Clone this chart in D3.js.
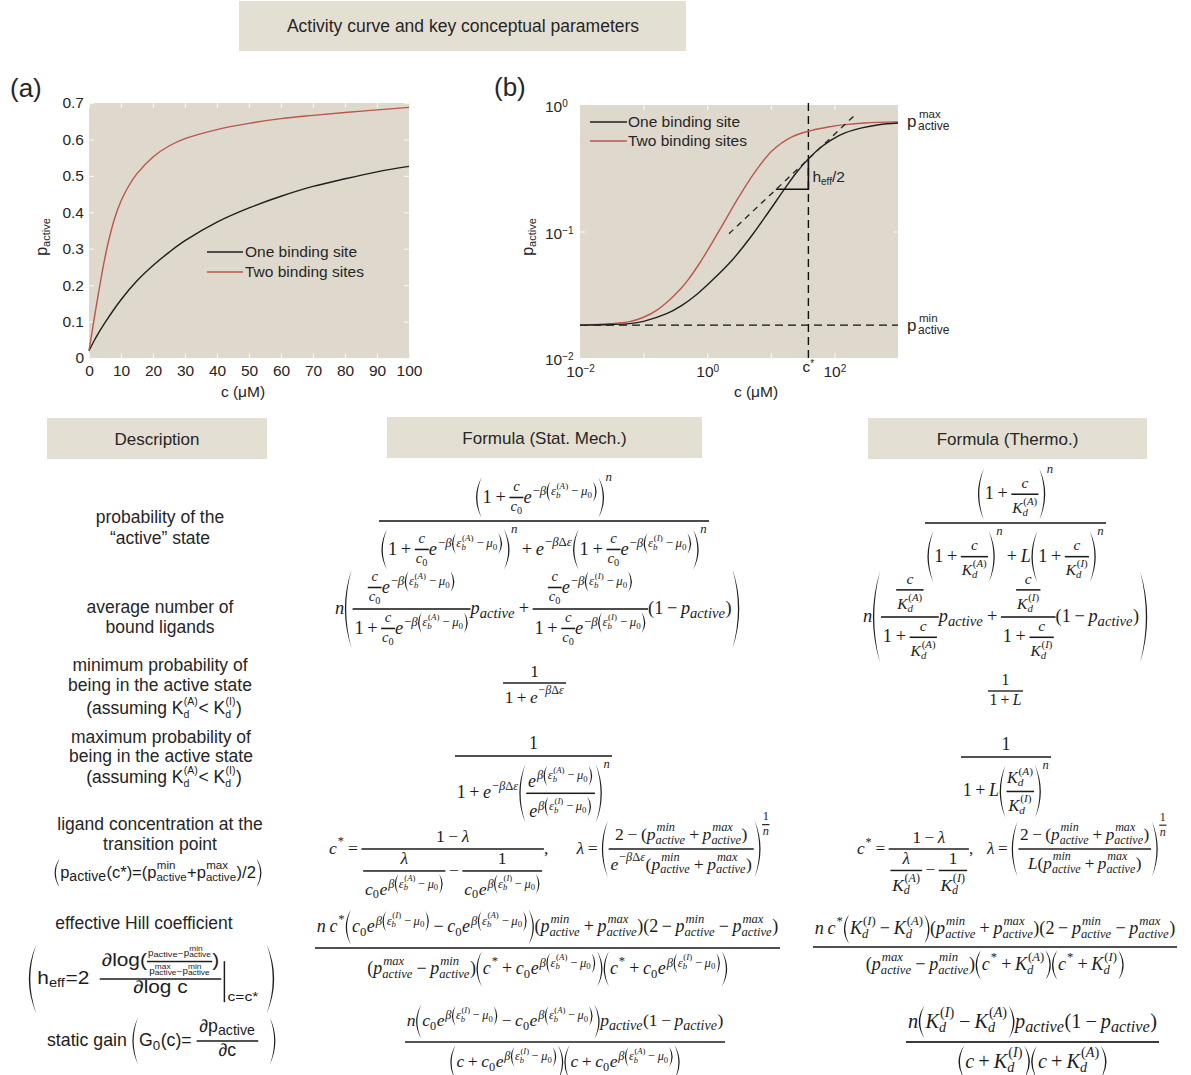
<!DOCTYPE html>
<html>
<head>
<meta charset="utf-8">
<script src="https://cdn.jsdelivr.net/npm/d3@7"></script>
<style>
  body { margin: 0; background: #fff; }
  svg { display: block; }
</style>
</head>
<body>
<svg id="fig" width="1191" height="1075"></svg>
<script>
// ---------------- data ----------------
const titleText = 'Activity curve and key conceptual parameters';
const seriesNames = ['One binding site', 'Two binding sites'];
const headerNames = ['Description', 'Formula (Stat. Mech.)', 'Formula (Thermo.)'];

// panel (a): linear axes
const ticksAX = [0, 10, 20, 30, 40, 50, 60, 70, 80, 90, 100];
const ticksAY = [0, 0.1, 0.2, 0.3, 0.4, 0.5, 0.6, 0.7];
const oneSiteConcA = [0, 1, 2, 5, 10, 15, 20, 25, 30, 40, 50, 60, 70, 80, 90, 100];
const oneSiteActA  = [0.02, 0.037, 0.054, 0.097, 0.16, 0.212, 0.254, 0.29, 0.322, 0.373, 0.412, 0.444, 0.471, 0.492, 0.511, 0.526];
const twoSiteConcA = [0, 1, 2, 3, 4, 5, 6, 8, 10, 12.5, 15, 20, 25, 30, 40, 50, 60, 70, 80, 90, 100];
const twoSiteActA  = [0.02, 0.074, 0.128, 0.18, 0.23, 0.276, 0.317, 0.383, 0.431, 0.4735, 0.506, 0.552, 0.582, 0.602, 0.627, 0.644, 0.657, 0.666, 0.674, 0.681, 0.688];

// panel (b): log-log axes
const ticksBX = [0.01, 1, 100];
const ticksBY = [0.01, 0.1, 1];
const oneSiteConcB = [0.01, 0.03, 0.06, 0.1, 0.23, 0.4, 0.7, 1.2, 2.5, 5, 9, 17, 25, 39, 60, 90, 150, 270, 500, 1000];
const oneSiteActB  = [0.0182, 0.0184, 0.0187, 0.0195, 0.0224, 0.0261, 0.0321, 0.0411, 0.0598, 0.0925, 0.14, 0.222, 0.29, 0.375, 0.459, 0.531, 0.604, 0.659, 0.698, 0.72];
const twoSiteConcB = [0.01, 0.03, 0.06, 0.1, 0.16, 0.25, 0.37, 0.5, 0.75, 1.2, 2, 3.2, 5.8, 10.5, 21.5, 44, 80, 150, 300, 1000];
const twoSiteActB  = [0.0182, 0.0187, 0.0194, 0.021, 0.0238, 0.0285, 0.0346, 0.0415, 0.0556, 0.0817, 0.127, 0.19, 0.301, 0.435, 0.56, 0.63, 0.67, 0.70, 0.72, 0.735];
const pMinLevel = 0.0182;
const cStar = 39;
const tangentConc = [2.2, 223];
const tangentAct  = [0.096, 0.856];
const stepConc = [12, 39];
const stepAct  = [0.216, 0.375];

// table description column
const descText = [
  ['probability of the', '\u201cactive\u201d state'],
  ['average number of', 'bound ligands'],
  ['minimum probability of', 'being in the active state'],
  ['maximum probability of', 'being in the active state'],
  ['ligand concentration at the', 'transition point'],
  ['effective Hill coefficient']
];

// ---------------- styles ----------------
const SANS = "'Liberation Sans', Arial, Helvetica, sans-serif";
const SERIF = "'Liberation Serif', 'DejaVu Serif', serif";
const PLOT_BG = '#dfd9cd';
const BOX_BG = '#e4dfd3';
const RED = '#b8574a';
const INK = '#1c1c1c';
const TXT = '#262626';
const AXIS_FS = 15.5;

const svg = d3.select('#fig');

// ---------------- small math typesetter ----------------
const mctx = document.createElement('canvas').getContext('2d');
let FAM = SERIF;

function tbox(str, sz, it, fam) {
  mctx.font = (it ? 'italic ' : '') + sz + 'px ' + fam;
  const w = mctx.measureText(str).width;
  return { w, h: sz * 0.7, d: sz * 0.2, draw(g, x, y) {
    g.append('text').attr('x', x).attr('y', y).attr('font-family', fam)
      .attr('font-size', sz).attr('font-style', it ? 'italic' : null)
      .attr('fill', INK).text(str);
  }};
}
const I = s => sz => tbox(s, sz, FAM === SERIF, FAM);
const N = s => sz => tbox(s, sz, false, FAM);
const sp = k => sz => ({ w: k * sz, h: 0, d: 0, draw() {} });
const row = (...items) => sz => {
  const bs = items.map(f => f(sz));
  return { w: d3.sum(bs, b => b.w), h: d3.max(bs, b => b.h), d: d3.max(bs, b => b.d),
    draw(g, x, y) { let cx = x; bs.forEach(b => { b.draw(g, cx, y); cx += b.w; }); } };
};
const op = s => row(sp(0.2), N(s), sp(0.2));

const frac = (n, d, k = 1, pad = 0.1, gapK = 0.13) => sz => {
  const nb = n(sz * k), db = d(sz * k);
  const a = sz * 0.28, t = Math.max(0.9, sz * 0.085), gap = sz * gapK;
  const w = Math.max(nb.w, db.w) + 2 * pad * sz;
  return { w, h: a + t / 2 + gap + nb.d + nb.h, d: t / 2 + gap + db.h + db.d - a,
    draw(g, x, y) {
      g.append('rect').attr('x', x).attr('y', y - a - t / 2).attr('width', w).attr('height', t).attr('fill', INK);
      nb.draw(g, x + (w - nb.w) / 2, y - a - t / 2 - gap - nb.d);
      db.draw(g, x + (w - db.w) / 2, y - a + t / 2 + gap + db.h);
    } };
};

const scr = (base, sup, sub, k = 0.7, margin = 0.08) => sz => {
  const b = base(sz), p = sup ? sup(sz * k) : null, s = sub ? sub(sz * k) : null;
  let up = p ? Math.max(sz * 0.4, b.h - p.h * 0.45) : 0;
  const dn = s ? Math.max(sz * 0.2, b.d - s.d) : 0;
  if (p && s) {
    const clash = (s.h - dn) - (up - p.d) + sz * margin;
    if (clash > 0) up += clash;
  }
  const kern = p ? (FAM === SERIF ? sz * 0.05 : sz * 0.02) : 0;
  return { w: b.w + Math.max(p ? p.w + kern : 0, s ? s.w : 0) + sz * 0.03,
    h: Math.max(b.h, p ? up + p.h : 0), d: Math.max(b.d, s ? dn + s.d : 0),
    draw(g, x, y) {
      b.draw(g, x, y);
      if (p) p.draw(g, x + b.w + kern, y - up);
      if (s) s.draw(g, x + b.w, y + dn);
    } };
};
const sup = (b, p, k) => scr(b, p, null, k);
const sub = (b, s, k) => scr(b, null, s, k);
const subsup = (b, s, p, k, m) => scr(b, p, s, k, m);

// stretchy parentheses drawn as crescents
const par = c => sz => {
  const cb = c(sz);
  const a = sz * 0.28;
  const ext = Math.max(cb.h - a, cb.d + a) + sz * 0.1;
  if (2 * ext < sz * 1.3) return row(N('('), () => cb, N(')'))(sz);
  const pw = Math.min(sz * 0.55, sz * 0.26 + ext * 0.07);
  const th = Math.max(1, sz * 0.07);
  const gap = sz * 0.05;
  const w = 2 * (pw + gap) + cb.w;
  return { w, h: a + ext, d: ext - a, draw(g, x, y) {
    const yt = y - a - ext, yb = y - a + ext, ym = y - a;
    const crescent = (x0, dir) => {
      const cOut = x0 + dir * pw * 1.8, cIn = cOut - dir * 2 * th;
      return `M${x0},${yt} Q${cOut},${ym} ${x0},${yb} Q${cIn},${ym} ${x0},${yt} Z`;
    };
    g.append('path').attr('d', crescent(x + pw, -1)).attr('fill', INK);
    cb.draw(g, x + pw + gap, y);
    g.append('path').attr('d', crescent(x + w - pw, 1)).attr('fill', INK);
  }};
};

// "evaluated at" bar with a subscript condition
const evalAt = (c, s) => sz => {
  const cb = c(sz), sb = s(sz * 0.75);
  const gap = sz * 0.3;
  return { w: cb.w + gap + sb.w + sz * 0.15, h: cb.h, d: cb.d + sz * 0.3, draw(g, x, y) {
    cb.draw(g, x, y);
    const lx = x + cb.w + gap * 0.5;
    g.append('line').attr('x1', lx).attr('x2', lx)
      .attr('y1', y - cb.h * 0.6).attr('y2', y + cb.d + sz * 0.3)
      .attr('stroke', INK).attr('stroke-width', Math.max(1, sz * 0.07));
    sb.draw(g, lx + sz * 0.15, y + cb.d + sz * 0.25);
  }};
};

// lay a built expression out in a slot; optional horizontal-only stretch
function place(build, fam, sz, o) {
  FAM = fam;
  const b = build(sz);
  const s = o.right != null ? (o.right - o.left) / b.w : 1;
  const sy = o.stretchX ? 1 : s;
  const x0 = o.left != null ? o.left : o.cx - b.w * s / 2;
  const y0 = o.axis != null ? o.axis + sy * sz * 0.28 : o.base;
  const g = svg.append('g').attr('transform', `translate(${x0},${y0}) scale(${s},${sy})`);
  b.draw(g, 0, 0);
}

// ---------------- title and headers ----------------
svg.append('rect').attr('x', 239).attr('y', 1).attr('width', 447).attr('height', 50).attr('fill', BOX_BG);
svg.append('text').attr('x', 463).attr('y', 32).attr('text-anchor', 'middle')
  .attr('font-family', SANS).attr('font-size', 17.5).attr('fill', TXT).text(titleText);

const headerBoxes = [[47, 418, 220, 41], [387, 417, 315, 41], [868, 418, 279, 41]];
headerNames.forEach((h, i) => {
  const [x, y, w, ht] = headerBoxes[i];
  svg.append('rect').attr('x', x).attr('y', y).attr('width', w).attr('height', ht).attr('fill', BOX_BG);
  svg.append('text').attr('x', x + w / 2).attr('y', y + 27).attr('text-anchor', 'middle')
    .attr('font-family', SANS).attr('font-size', 17).attr('fill', TXT).text(h);
});

// ---------------- panel (a) ----------------
const xA = d3.scaleLinear().domain([0, 100]).range([89, 409]);
const yA = d3.scaleLinear().domain([0, 0.7]).range([358, 103]);
const gA = svg.append('g');
gA.append('rect').attr('x', xA(0)).attr('y', yA(0.7)).attr('width', xA(100) - xA(0))
  .attr('height', yA(0) - yA(0.7)).attr('fill', PLOT_BG);

function whiteTicks(g) {
  g.select('.domain').remove();
  g.selectAll('.tick line').attr('stroke', '#f7f5f0').attr('stroke-width', 1.2);
  g.selectAll('.tick text').remove();
}
gA.append('g').attr('transform', `translate(0,${yA(0)})`).call(d3.axisBottom(xA).tickValues(ticksAX).tickSize(-5)).call(whiteTicks);
gA.append('g').attr('transform', `translate(0,${yA(0.7)})`).call(d3.axisTop(xA).tickValues(ticksAX).tickSize(-5)).call(whiteTicks);
gA.append('g').attr('transform', `translate(${xA(0)},0)`).call(d3.axisLeft(yA).tickValues(ticksAY).tickSize(-5)).call(whiteTicks);
gA.append('g').attr('transform', `translate(${xA(100)},0)`).call(d3.axisRight(yA).tickValues(ticksAY).tickSize(-5)).call(whiteTicks);

function labelAxis(g) {
  g.select('.domain').remove();
  g.selectAll('.tick line').remove();
  g.selectAll('.tick text').attr('font-family', SANS).attr('font-size', AXIS_FS).attr('fill', TXT);
}
gA.append('g').attr('transform', `translate(0,${yA(0)})`)
  .call(d3.axisBottom(xA).tickValues(ticksAX).tickSize(0).tickPadding(7).tickFormat(d3.format('d')))
  .call(labelAxis);
gA.append('g').attr('transform', `translate(${xA(0)},0)`)
  .call(d3.axisLeft(yA).tickValues(ticksAY).tickSize(0).tickPadding(5).tickFormat(d => d === 0 ? '0' : d.toFixed(1)))
  .call(labelAxis);

const smooth = d3.curveCatmullRom.alpha(0.5);
const lineA = d3.line().x(d => xA(d[0])).y(d => yA(d[1])).curve(smooth);
gA.append('path').attr('d', lineA(oneSiteConcA.map((c, i) => [c, oneSiteActA[i]])))
  .attr('fill', 'none').attr('stroke', '#1f1f1f').attr('stroke-width', 1.4);
gA.append('path').attr('d', lineA(twoSiteConcA.map((c, i) => [c, twoSiteActA[i]])))
  .attr('fill', 'none').attr('stroke', RED).attr('stroke-width', 1.4);

// legend (a)
[['#1f1f1f', 252], [RED, 272]].forEach(([col, y], i) => {
  gA.append('line').attr('x1', 207).attr('x2', 243).attr('y1', y).attr('y2', y).attr('stroke', col).attr('stroke-width', 1.4);
  gA.append('text').attr('x', 245).attr('y', y + 5).attr('font-family', SANS).attr('font-size', AXIS_FS)
    .attr('fill', TXT).text(seriesNames[i]);
});

gA.append('text').attr('x', 243).attr('y', 397).attr('text-anchor', 'middle')
  .attr('font-family', SANS).attr('font-size', AXIS_FS).attr('fill', TXT).text('c (\u03bcM)');
function yTitle(g, x, y) {
  const t = g.append('text').attr('transform', `translate(${x},${y}) rotate(-90)`).attr('text-anchor', 'middle')
    .attr('font-family', SANS).attr('fill', TXT);
  t.append('tspan').attr('font-size', 16).text('p');
  t.append('tspan').attr('font-size', 11).attr('dy', 3).text('active');
}
yTitle(gA, 47, 237);
gA.append('text').attr('x', 10).attr('y', 97).attr('font-family', SANS).attr('font-size', 26).attr('fill', TXT).text('(a)');

// ---------------- panel (b) ----------------
const xB = d3.scaleLog().domain([0.01, 1000]).range([580, 898]);
const yB = d3.scaleLog().domain([0.01, 1]).range([358, 105]);
const gB = svg.append('g');
gB.append('rect').attr('x', xB(0.01)).attr('y', yB(1)).attr('width', xB(1000) - xB(0.01))
  .attr('height', yB(0.01) - yB(1)).attr('fill', PLOT_BG);

const decX = [0.1, 1, 10, 100];
gB.append('g').attr('transform', `translate(0,${yB(0.01)})`).call(d3.axisBottom(xB).tickValues(decX).tickSize(-5)).call(whiteTicks);
gB.append('g').attr('transform', `translate(0,${yB(1)})`).call(d3.axisTop(xB).tickValues(decX).tickSize(-5)).call(whiteTicks);
gB.append('g').attr('transform', `translate(${xB(0.01)},0)`).call(d3.axisLeft(yB).tickValues([0.1]).tickSize(-5)).call(whiteTicks);
gB.append('g').attr('transform', `translate(${xB(1000)},0)`).call(d3.axisRight(yB).tickValues([0.1]).tickSize(-5)).call(whiteTicks);

function powerLabels(sel) {
  sel.each(function (d) {
    const t = d3.select(this);
    const e = Math.round(Math.log10(d));
    t.text(null).attr('font-family', SANS).attr('font-size', AXIS_FS).attr('fill', TXT);
    t.append('tspan').text('10');
    t.append('tspan').attr('dy', '-0.5em').attr('font-size', 10).text(e < 0 ? '\u2212' + (-e) : String(e));
  });
}
const axBX = gB.append('g').attr('transform', `translate(0,${yB(0.01)})`)
  .call(d3.axisBottom(xB).tickValues(ticksBX).tickSize(0).tickPadding(8));
axBX.select('.domain').remove();
axBX.selectAll('.tick text').call(powerLabels);
const axBY = gB.append('g').attr('transform', `translate(${xB(0.01)},0)`)
  .call(d3.axisLeft(yB).tickValues(ticksBY).tickSize(0).tickPadding(8));
axBY.select('.domain').remove();
axBY.selectAll('.tick text').call(powerLabels).attr('text-anchor', 'start').attr('x', -35).attr('dy', '0.45em');

// c* marker on the x axis
const cs = gB.append('text').attr('x', xB(cStar)).attr('y', 372).attr('text-anchor', 'middle')
  .attr('font-family', SANS).attr('font-size', AXIS_FS).attr('fill', TXT);
cs.append('tspan').text('c');
cs.append('tspan').attr('dy', -5).attr('font-size', 10).text('*');

// reference lines
gB.append('line').attr('x1', xB(0.01)).attr('x2', xB(1000)).attr('y1', yB(pMinLevel)).attr('y2', yB(pMinLevel))
  .attr('stroke', '#111').attr('stroke-width', 1.4).attr('stroke-dasharray', '8,5');
gB.append('line').attr('x1', xB(cStar)).attr('x2', xB(cStar)).attr('y1', yB(1) - 2).attr('y2', yB(0.01))
  .attr('stroke', '#111').attr('stroke-width', 1.4).attr('stroke-dasharray', '8,5');

const lineB = d3.line().x(d => xB(d[0])).y(d => yB(d[1])).curve(smooth);
gB.append('path').attr('d', lineB(twoSiteConcB.map((c, i) => [c, twoSiteActB[i]])))
  .attr('fill', 'none').attr('stroke', RED).attr('stroke-width', 1.4);
gB.append('path').attr('d', lineB(oneSiteConcB.map((c, i) => [c, oneSiteActB[i]])))
  .attr('fill', 'none').attr('stroke', '#1f1f1f').attr('stroke-width', 1.4);

// tangent at the transition point and slope triangle
gB.append('line').attr('x1', xB(tangentConc[0])).attr('y1', yB(tangentAct[0]))
  .attr('x2', xB(tangentConc[1])).attr('y2', yB(tangentAct[1]))
  .attr('stroke', '#222').attr('stroke-width', 1.3).attr('stroke-dasharray', '6,5');
gB.append('path')
  .attr('d', `M${xB(stepConc[0])},${yB(stepAct[0])} L${xB(stepConc[1])},${yB(stepAct[0])} L${xB(stepConc[1])},${yB(stepAct[1])}`)
  .attr('fill', 'none').attr('stroke', '#111').attr('stroke-width', 1.6);
const hl = gB.append('text').attr('x', xB(cStar) + 4).attr('y', 182).attr('font-family', SANS)
  .attr('font-size', AXIS_FS).attr('fill', TXT);
hl.append('tspan').text('h');
hl.append('tspan').attr('font-size', 10).attr('dy', 3).text('eff');
hl.append('tspan').attr('dy', -3).text('/2');

// legend (b)
[['#1f1f1f', 122], [RED, 141]].forEach(([col, y], i) => {
  gB.append('line').attr('x1', 590).attr('x2', 627).attr('y1', y).attr('y2', y).attr('stroke', col).attr('stroke-width', 1.4);
  gB.append('text').attr('x', 628).attr('y', y + 5).attr('font-family', SANS).attr('font-size', AXIS_FS)
    .attr('fill', TXT).text(seriesNames[i]);
});

// plateau labels
function plateau(base, tag) {
  gB.append('text').attr('x', 907).attr('y', base).attr('font-family', SANS).attr('font-size', 17).attr('fill', TXT).text('p');
  gB.append('text').attr('x', 919).attr('y', base - 9).attr('font-family', SANS).attr('font-size', 11.5).attr('fill', TXT).text(tag);
  gB.append('text').attr('x', 918).attr('y', base + 3).attr('font-family', SANS).attr('font-size', 12).attr('fill', TXT).text('active');
}
plateau(127, 'max');
plateau(331, 'min');

gB.append('text').attr('x', 756).attr('y', 397).attr('text-anchor', 'middle')
  .attr('font-family', SANS).attr('font-size', AXIS_FS).attr('fill', TXT).text('c (\u03bcM)');
yTitle(gB, 533, 237);
gB.append('text').attr('x', 494).attr('y', 96).attr('font-family', SANS).attr('font-size', 26).attr('fill', TXT).text('(b)');

// ---------------- description column ----------------
const DESC_FS = 17.5;
const descLayout = [
  { cx: 160, ys: [523, 544] },
  { cx: 160, ys: [613, 633] },
  { cx: 160, ys: [671, 691] },
  { cx: 161, ys: [743, 762] },
  { cx: 160, ys: [830, 850] },
  { cx: 144, ys: [929] }
];
descText.forEach((lines, i) => {
  lines.forEach((s, j) => {
    svg.append('text').attr('x', descLayout[i].cx).attr('y', descLayout[i].ys[j]).attr('text-anchor', 'middle')
      .attr('font-family', SANS).attr('font-size', DESC_FS).attr('fill', TXT).text(s);
  });
});

const assume = row(N('(assuming '), subsup(N('K'), N('d'), N('(A)'), 0.6), N('< '),
  subsup(N('K'), N('d'), N('(I)'), 0.6), N(')'));
place(assume, SANS, DESC_FS, { cx: 164, base: 714 });
place(assume, SANS, DESC_FS, { cx: 164, base: 783 });

const transition = par(row(sub(N('p'), N('active'), 0.85), N('(c*)=('),
  subsup(N('p'), N('active'), N('min'), 0.7, 0.12), N('+'), subsup(N('p'), N('active'), N('max'), 0.7, 0.12), N(')/2')));
place(transition, SANS, 16.5, { cx: 158, axis: 873 });

const pS = k => sub(N('p'), N('active'), k);
const pSm = (t, k) => subsup(N('p'), N('active'), N(t), k, 0.03);
const hill = par(row(sub(N('h'), N('eff'), 0.7), N('=2'), sp(0.5),
  evalAt(frac(row(N('\u2202log('), frac(row(pS(0.95), N('\u2212'), pSm('min', 0.85)),
    row(pSm('max', 0.85), N('\u2212'), pSm('min', 0.85)), 0.47, 0.05, 0.1), N(')')), N('\u2202log c'), 1, 0.1, 0.08), N('c=c*')),
  sp(0.2)));
place(hill, SANS, 17.5, { left: 28, right: 275, axis: 979, stretchX: true });

const gain = row(N('static gain '), par(row(sub(N('G'), N('0'), 0.75), N('(c)= '),
  frac(row(N('\u2202'), pS(0.8)), N('\u2202c'), 1, 0.15), sp(0.6))));
place(gain, SANS, 17, { left: 47, right: 276, axis: 1041 });

// ---------------- formulas ----------------
const one = N('1');
const c0 = sub(I('c'), N('0'));
const mu0 = sub(I('\u03bc'), N('0'));
const eps = X => subsup(I('\u03b5'), I('b'), row(N('('), I(X), N(')')));
const bracket = X => par(row(eps(X), op('\u2212'), mu0));
const ePow = (neg, X) => sup(I('e'), neg ? row(N('\u2212'), I('\u03b2'), bracket(X)) : row(I('\u03b2'), bracket(X)));
const cc0 = frac(I('c'), c0, 0.8, 0.05);
const eDelta = sup(I('e'), row(N('\u2212'), I('\u03b2'), N('\u0394'), I('\u03b5')));
const pa = sub(I('p'), I('active'), 0.8);
const pmn = subsup(I('p'), I('active'), I('min'), 0.7);
const pmx = subsup(I('p'), I('active'), I('max'), 0.7);
const cst = sup(I('c'), N('*'));
const KA = subsup(I('K'), I('d'), row(N('('), I('A'), N(')')));
const KI = subsup(I('K'), I('d'), row(N('('), I('I'), N(')')));
const c0eA = row(c0, ePow(false, 'A'));
const c0eI = row(c0, ePow(false, 'I'));
const sumP = row(N('('), pmn, op('+'), pmx, N(')'));
const oneMinusP = row(N('('), one, op('\u2212'), pa, N(')'));
const onePlusE = X => par(row(one, op('+'), cc0, ePow(true, X)));
const invN = frac(one, I('n'), 1, 0.05);

const stat = [
  frac(sup(onePlusE('A'), I('n')),
       row(sup(onePlusE('A'), I('n')), op('+'), eDelta, sup(onePlusE('I'), I('n')))),
  row(I('n'), par(row(
    frac(row(cc0, ePow(true, 'A')), row(one, op('+'), cc0, ePow(true, 'A'))), pa, op('+'),
    frac(row(cc0, ePow(true, 'I')), row(one, op('+'), cc0, ePow(true, 'I'))), oneMinusP))),
  frac(one, row(one, op('+'), eDelta)),
  frac(one, row(one, op('+'), eDelta,
    sup(par(frac(sup(I('e'), row(I('\u03b2'), bracket('A'))), sup(I('e'), row(I('\u03b2'), bracket('I'))))), I('n')))),
  row(cst, op('='), frac(row(one, op('\u2212'), I('\u03bb')),
      row(frac(I('\u03bb'), c0eA), op('\u2212'), frac(one, c0eI))), N(','), sp(1.6),
    I('\u03bb'), op('='), sup(par(frac(row(N('2'), op('\u2212'), sumP), row(eDelta, sumP))), invN)),
  frac(row(I('n'), sp(0.2), cst, par(row(c0eI, op('\u2212'), c0eA)), sumP,
           N('('), N('2'), op('\u2212'), pmn, op('\u2212'), pmx, N(')')),
       row(N('('), pmx, op('\u2212'), pmn, N(')'), par(row(cst, op('+'), c0eA)), par(row(cst, op('+'), c0eI)))),
  frac(row(I('n'), par(row(c0eI, op('\u2212'), c0eA)), pa, oneMinusP),
       row(par(row(I('c'), op('+'), c0eI)), par(row(I('c'), op('+'), c0eA))))
];

const cK = X => frac(I('c'), X === 'A' ? KA : KI, 0.85, 0.05);
const onePlusK = X => par(row(one, op('+'), cK(X)));
const thermo = [
  frac(sup(onePlusK('A'), I('n')), row(sup(onePlusK('A'), I('n')), op('+'), I('L'), sup(onePlusK('I'), I('n')))),
  row(I('n'), par(row(frac(cK('A'), row(one, op('+'), cK('A'))), pa, op('+'),
                      frac(cK('I'), row(one, op('+'), cK('I'))), oneMinusP))),
  frac(one, row(one, op('+'), I('L'))),
  frac(one, row(one, op('+'), I('L'), sup(par(frac(KA, KI, 0.9, 0.03)), I('n')))),
  row(cst, op('='), frac(row(one, op('\u2212'), I('\u03bb')), row(frac(I('\u03bb'), KA), op('\u2212'), frac(one, KI))),
    N(','), sp(0.8), I('\u03bb'), op('='), sup(par(frac(row(N('2'), op('\u2212'), sumP), row(I('L'), sumP))), invN)),
  frac(row(I('n'), sp(0.2), cst, par(row(KI, op('\u2212'), KA)), sumP,
           N('('), N('2'), op('\u2212'), pmn, op('\u2212'), pmx, N(')')),
       row(N('('), pmx, op('\u2212'), pmn, N(')'), par(row(cst, op('+'), KA)), par(row(cst, op('+'), KI)))),
  frac(row(I('n'), par(row(KI, op('\u2212'), KA)), pa, oneMinusP),
       row(par(row(I('c'), op('+'), KI)), par(row(I('c'), op('+'), KA))))
];

const statSlots = [[379, 709, 521], [335, 740, 609], [503, 566, 683], [455, 612, 756],
                   [329, 770, 849], [315, 780, 948], [405, 725, 1042]];
const thermoSlots = [[925, 1106, 523], [863, 1148, 617], [988, 1023, 691], [961, 1051, 757],
                     [857, 1167, 849], [813, 1177, 947], [906, 1159, 1042]];
stat.forEach((f, i) => place(f, SERIF, 14, { left: statSlots[i][0], right: statSlots[i][1], axis: statSlots[i][2] }));
thermo.forEach((f, i) => place(f, SERIF, 14, { left: thermoSlots[i][0], right: thermoSlots[i][1], axis: thermoSlots[i][2] }));
</script>
</body>
</html>
